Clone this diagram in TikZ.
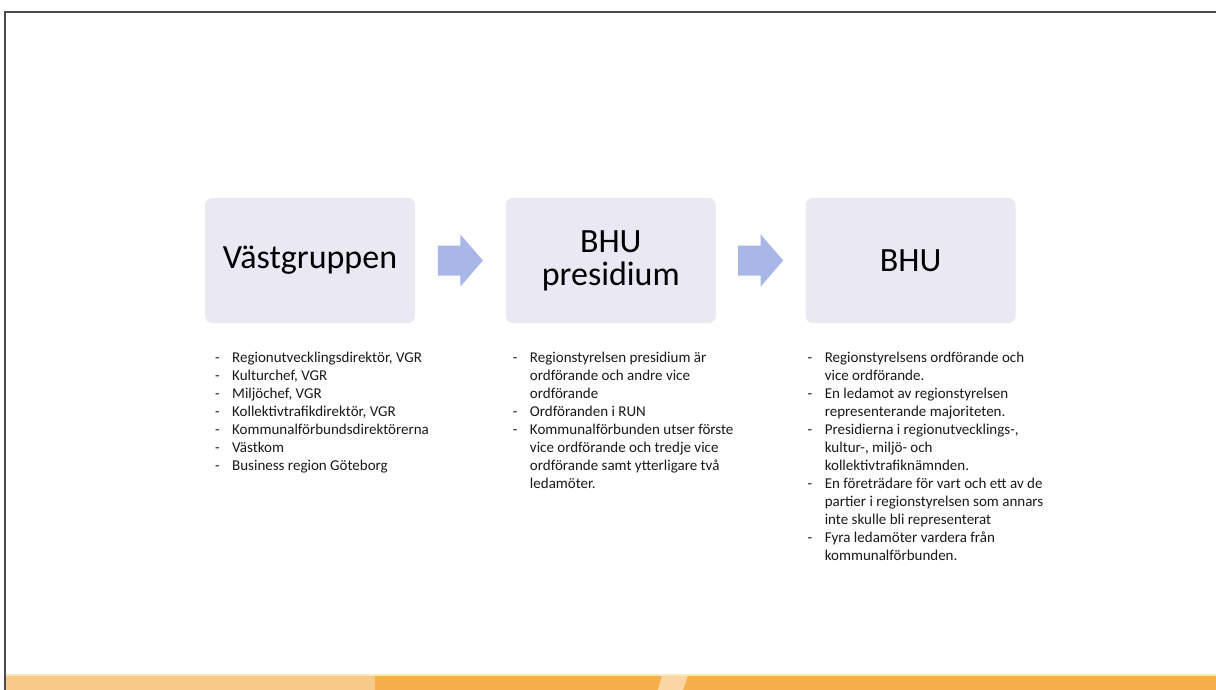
\documentclass[tikz,border=0pt]{standalone}
\usepackage{fontspec}
\setmainfont{Carlito}
\usetikzlibrary{calc,positioning}

\definecolor{boxfill}{HTML}{EAE8F3}
\definecolor{arrowfill}{HTML}{A8B6E8}
\definecolor{listtext}{HTML}{1A1A1A}
\definecolor{framegray}{HTML}{4A4A4A}
\definecolor{bandlight}{HTML}{F8CA8A}
\definecolor{banddark}{HTML}{F5AF4C}
\definecolor{bandstripe}{HTML}{FAD6A4}
\definecolor{bandedge}{HTML}{FCE8B8}

\tikzset{
  stage/.style={fill=boxfill, rounded corners=3.5pt, minimum width=105pt, minimum height=62.5pt,
    inner sep=0pt, align=center, text=black, font=\fontsize{17}{16.5}\selectfont},
  members/.style={anchor=north west, inner sep=0pt, text=listtext, font=\fontsize{7.5}{9}\selectfont},
  flowarrow/.pic={\fill[arrowfill] (-22.5,-15) -- (0,-15) -- (0,-26) -- (22.5,0) -- (0,26) -- (0,15) -- (-22.5,15) -- cycle;}
}

\begin{document}
\begin{tikzpicture}[x=0.5pt,y=-0.5pt]
  \useasboundingbox (0,0) rectangle (1216,690);
  \fill[white] (0,0) rectangle (1216,690);

  % bottom band
  \fill[bandlight] (5,675) rectangle (375,690);
  \fill[banddark] (375,675) rectangle (1216,690);
  \fill[bandstripe] (662,675) -- (688,675) -- (683,690) -- (658,690) -- cycle;
  \draw[bandedge, line width=0.6pt] (5,675) -- (1216,675);

  % frame
  \draw[framegray, line width=1.3pt] (1216,12) -- (5,12) -- (5,690);

  % stages
  \node[stage] (vg) at (310,260.5) {Västgruppen};
  \node[stage, right=45pt of vg] (bp) {BHU\\presidium};
  \node[stage, right=44.5pt of bp] (bhu) {BHU};

  \path (vg.east) -- (bp.west) coordinate[pos=0.5] (g1);
  \path (bp.east) -- (bhu.west) coordinate[pos=0.5] (g2);
  \pic at (g1) {flowarrow};
  \pic at (g2) {flowarrow};

  % members
  \node[members] (vglist) at ($(vg.south west)+(10,26)$) {%
    \begin{tabular}{@{}l@{\hspace{6.3pt}}l@{}}
      - & Regionutvecklingsdirektör, VGR\\
      - & Kulturchef, VGR\\
      - & Miljöchef, VGR\\
      - & Kollektivtrafikdirektör, VGR\\
      - & Kommunalförbundsdirektörerna\\
      - & Västkom\\
      - & Business region Göteborg
    \end{tabular}};
  \node[members] (bplist) at ($(bp.south west)+(7,26)$) {%
    \begin{tabular}{@{}l@{\hspace{6.3pt}}l@{}}
      - & Regionstyrelsen presidium är\\
        & ordförande och andre vice\\
        & ordförande\\
      - & Ordföranden i RUN\\
      - & Kommunalförbunden utser förste\\
        & vice ordförande och tredje vice\\
        & ordförande samt ytterligare två\\
        & ledamöter.
    \end{tabular}};
  \node[members] (bhulist) at ($(bhu.south west)+(2,26)$) {%
    \begin{tabular}{@{}l@{\hspace{6.3pt}}l@{}}
      - & Regionstyrelsens ordförande och\\
        & vice ordförande.\\
      - & En ledamot av regionstyrelsen\\
        & representerande majoriteten.\\
      - & Presidierna i regionutvecklings-,\\
        & kultur-, miljö- och\\
        & kollektivtrafiknämnden.\\
      - & En företrädare för vart och ett av de\\
        & partier i regionstyrelsen som annars\\
        & inte skulle bli representerat\\
      - & Fyra ledamöter vardera från\\
        & kommunalförbunden.
    \end{tabular}};
\end{tikzpicture}
\end{document}
